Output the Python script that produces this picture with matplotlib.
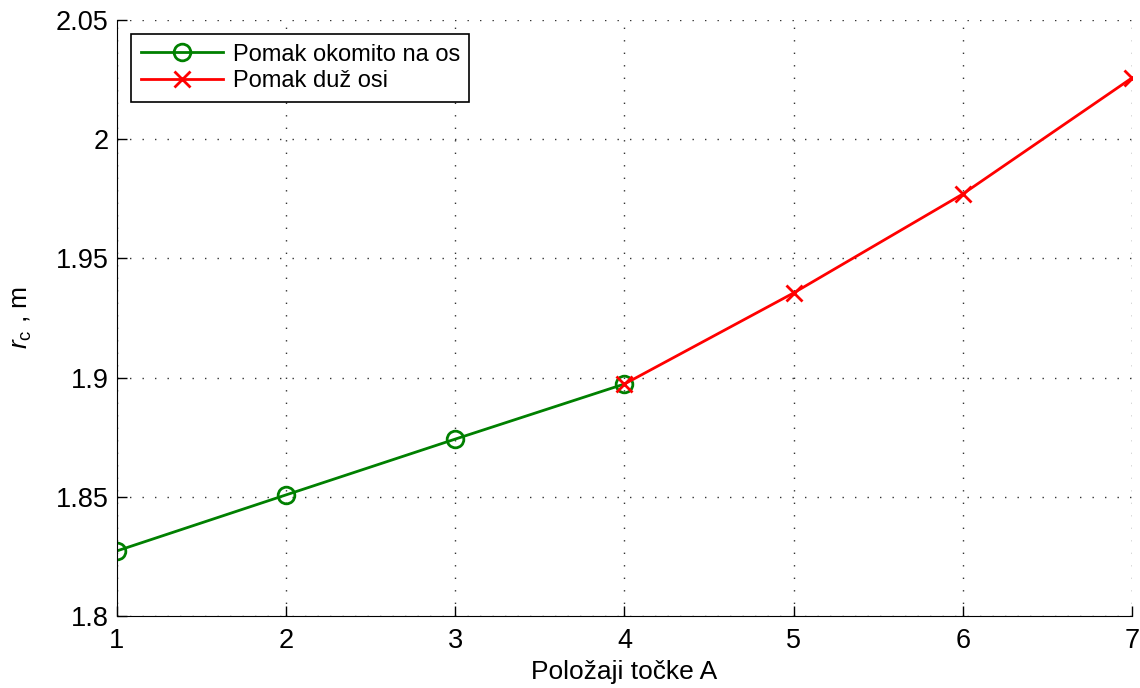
import numpy as np
import matplotlib
matplotlib.use("Agg")
import matplotlib.pyplot as plt
import matplotlib.ticker as tick

plt.rcParams['font.family'] = ['Liberation Sans', 'DejaVu Sans']
plt.rcParams['mathtext.fontset'] = 'custom'
plt.rcParams['mathtext.rm'] = 'Liberation Sans'
plt.rcParams['mathtext.it'] = 'Liberation Sans:italic'

# data
x_okomito = [1, 2, 3, 4]
r_okomito = [1.8273, 1.8508, 1.8742, 1.8973]
x_duz = [4, 5, 6, 7]
r_duz = [1.8973, 1.9355, 1.9770, 2.0257]
x_ticks = [1, 2, 3, 4, 5, 6, 7]
y_ticks = [1.8, 1.85, 1.9, 1.95, 2.0, 2.05]

fig = plt.figure(figsize=(11.4, 6.88), dpi=100)
ax = fig.add_axes([0.1026, 0.1047, 0.8904, 0.8663])

ax.plot(x_okomito, r_okomito, color=(0, 0.5, 0), lw=2, marker='o',
        markersize=12, markerfacecolor='none', markeredgewidth=2,
        label='Pomak okomito na os')
ax.plot(x_duz, r_duz, color='red', lw=2, marker='x',
        markersize=12, markeredgewidth=2, label='Pomak duž osi')

ax.set_xlim(1, 7)
ax.set_ylim(1.8, 2.05)
ax.set_xticks(x_ticks)
ax.set_yticks(y_ticks)
ax.yaxis.set_major_formatter(tick.FormatStrFormatter('%g'))
ax.tick_params(direction='in', length=7, width=1, labelsize=19.5)
ax.tick_params(axis='x', pad=9)
ax.tick_params(axis='y', pad=6)

ax.spines['top'].set_visible(False)
ax.spines['right'].set_visible(False)

ax.grid(True, linestyle=(0, (1, 8)), color='#333333', linewidth=1.0)
ax.set_axisbelow(True)

ax.set_xlabel('Položaji točke A', fontsize=19, labelpad=4)
ax.set_ylabel(r'$r_{\mathrm{c}}$ , m', fontsize=19, labelpad=16)

leg = ax.legend(loc='upper left', fontsize=17, fancybox=False,
                edgecolor='black', framealpha=1, borderaxespad=0.6,
                handlelength=3.5, handletextpad=0.4, borderpad=0.4,
                labelspacing=0.2)
leg.get_frame().set_linewidth(1.2)

fig.savefig('out.png', dpi=100)
